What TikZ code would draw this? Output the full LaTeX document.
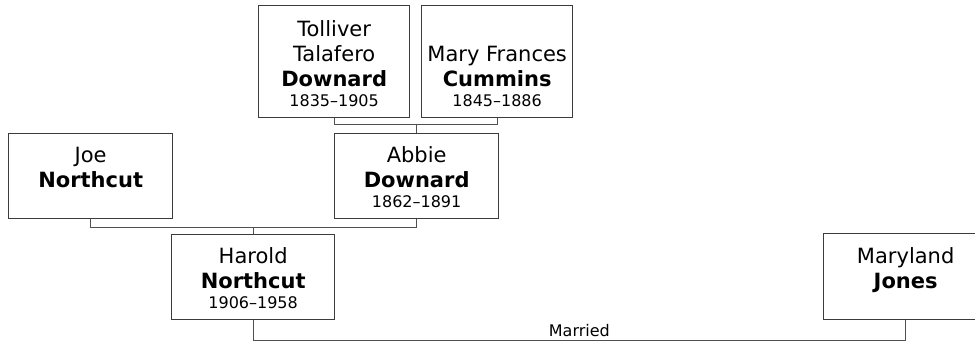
\documentclass[tikz,border=0pt]{standalone}
\usepackage{fontspec}
\setmainfont{DejaVu Sans}
\definecolor{BoxLine}{RGB}{60,60,60}
\definecolor{TreeLine}{RGB}{80,80,80}
\newcommand{\namefont}{\fontsize{21}{25}\selectfont}
\newcommand{\datefont}{\fontsize{16}{20}\selectfont}
% width, height, name lines, dates
\newcommand{\card}[4]{\parbox[c][\dimexpr#2-11pt\relax][b]{#1}{\centering\namefont #3\\[-5pt]{\datefont\rule[-11pt]{0pt}{11pt}#4}}}
\tikzset{
  person/.style={draw=BoxLine,line width=1.3pt,inner sep=0pt,anchor=north west},
  link/.style={draw=TreeLine,line width=1pt},
}

\begin{document}
\begin{tikzpicture}[x=1pt,y=-1pt]
  \clip (0,0) rectangle (975,341);
  \fill[white] (0,0) rectangle (975,341);
  % grandparents
  \node[person] (tolliver) at (258,5) {\card{151pt}{112pt}{Tolliver\\Talafero\\\textbf{Downard}}{1835--1905}};
  \node[person] (mary) at (421,5) {\card{151pt}{112pt}{Mary Frances\\\textbf{Cummins}}{1845--1886}};
  % parents
  \node[person] (joe) at (8,133) {\card{164pt}{85pt}{Joe\\\textbf{Northcut}}{}};
  \node[person] (abbie) at (334,133) {\card{164pt}{85pt}{Abbie\\\textbf{Downard}}{1862--1891}};
  % couple
  \node[person] (harold) at (171,234) {\card{163pt}{85pt}{Harold\\\textbf{Northcut}}{1906--1958}};
  \node[person] (maryland) at (823,233) {\card{164pt}{86pt}{Maryland\\\textbf{Jones}}{}};

  \draw[link] (tolliver.south) -- ++(0,6) coordinate (g1) -- (g1 -| mary.south) -- (mary.south);
  \draw[link] (abbie.north) -- (abbie.north |- g1);
  \draw[link] (joe.south) -- ++(0,8) coordinate (p1) -- (p1 -| abbie.south) -- (abbie.south);
  \draw[link] (harold.north) -- (harold.north |- p1);
  \draw[link] (harold.south) -- ++(0,20) coordinate (m1)
    -- node[above,inner sep=3pt,font=\fontsize{16}{19}\selectfont] (married) {Married} (m1 -| maryland.south)
    -- (maryland.south);
\end{tikzpicture}
\end{document}
